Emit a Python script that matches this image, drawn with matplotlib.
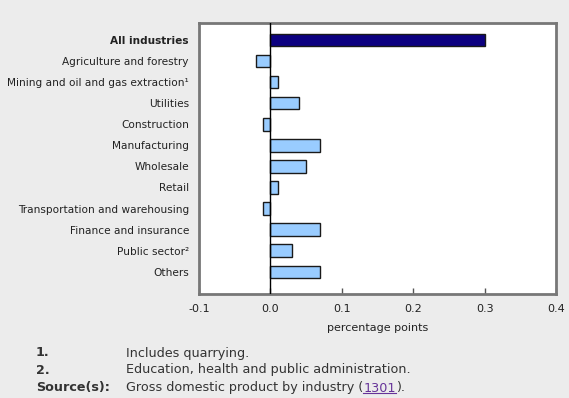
import matplotlib
matplotlib.use("Agg")
import matplotlib.pyplot as plt

categories = ["All industries", "Agriculture and forestry", "Mining and oil and gas extraction\u00b9",
              "Utilities", "Construction", "Manufacturing", "Wholesale", "Retail",
              "Transportation and warehousing", "Finance and insurance", "Public sector\u00b2", "Others"]
values = [0.30, -0.02, 0.01, 0.04, -0.01, 0.07, 0.05, 0.01, -0.01, 0.07, 0.03, 0.07]
xticks = [-0.1, 0.0, 0.1, 0.2, 0.3, 0.4]
xtick_labels = ["-0.1", "0.0", "0.1", "0.2", "0.3", "0.4"]

plt.rcParams['font.family'] = ['DejaVu Sans']
bg = "#ececec"
fig = plt.figure(figsize=(5.69, 3.98), dpi=100, facecolor=bg)
ax = fig.add_axes([199/569, 1-294/398, 357/569, 271/398])
ax.set_facecolor("white")

colors = ["#0c0080"] + ["#99ccff"] * (len(categories) - 1)
y = list(range(len(categories)))
ax.barh(y, values, height=0.6, color=colors, edgecolor="#1a1a1a", linewidth=1.0, zorder=3)
ax.axvline(0, color="black", linewidth=1.0, zorder=4)

ax.set_xlim(-0.1, 0.4)
ax.set_ylim(12.05, -0.8)
ax.set_yticks(y)
ax.set_yticklabels(categories, fontsize=7.6, color="#222222")
ax.get_yticklabels()[0].set_fontweight("bold")
ax.tick_params(axis="y", length=0, pad=7.2)
ax.set_xticks(xticks)
ax.set_xticklabels(xtick_labels, fontsize=8, color="#222222")
ax.tick_params(axis="x", direction="in", length=4, width=1, color="#555555", pad=7.5)
for s in ax.spines.values():
    s.set_color("#777777")
    s.set_linewidth(2)
ax.set_xlabel("percentage points", fontsize=8, color="#222222", labelpad=6)

fs = 9.2
tc = "#333333"
fig.text(36/569, 1-353/398, "1.", fontsize=fs, fontweight="bold", color=tc, va="center")
fig.text(126/569, 1-353/398, "Includes quarrying.", fontsize=fs, color=tc, va="center")
fig.text(36/569, 1-370/398, "2.", fontsize=fs, fontweight="bold", color=tc, va="center")
fig.text(126/569, 1-370/398, "Education, health and public administration.", fontsize=fs, color=tc, va="center")
fig.text(36/569, 1-388/398, "Source(s):", fontsize=fs, fontweight="bold", color=tc, va="center")
t1 = fig.text(126/569, 1-388/398, "Gross domestic product by industry (", fontsize=fs, color=tc, va="center")
fig.canvas.draw()
r = fig.canvas.get_renderer()
bb = t1.get_window_extent(r)
x1 = bb.x1 / fig.bbox.width
t2 = fig.text(x1, 1-388/398, "1301", fontsize=fs, color="#663399", va="center")
bb2 = t2.get_window_extent(r)
x2 = bb2.x1 / fig.bbox.width
fig.add_artist(matplotlib.lines.Line2D([x1, x2], [(bb2.y0 + 1.5) / fig.bbox.height]*2,
                                       color="#663399", linewidth=0.8))
fig.text(x2, 1-388/398, ").", fontsize=fs, color=tc, va="center")

fig.savefig("out.png", dpi=100, facecolor=bg)
